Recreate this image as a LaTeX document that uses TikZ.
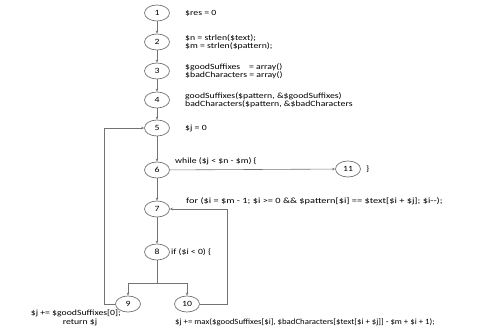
\documentclass[tikz,border=0pt]{standalone}
\usepackage{fontspec}
\setmainfont[FakeStretch=1.22]{Carlito}
\usetikzlibrary{arrows.meta,shapes.geometric}
\begin{document}
\begin{tikzpicture}[x=1pt,y=-1pt,
  nd/.style={draw=black!55,line width=0.7pt,ellipse,minimum width=25pt,minimum height=16pt,inner sep=0pt,font=\fontsize{8}{8}\selectfont},
  lbl/.style={anchor=west,align=left,inner sep=0pt,font=\fontsize{8}{8.5}\selectfont},
  ar/.style={draw=black!55,line width=0.6pt,-{Stealth[length=3pt,width=2.5pt]}},
  ln/.style={draw=black!55,line width=0.6pt}]
\useasboundingbox (0,0) rectangle (483,327);
\node[nd] (n1) at (157,13) {1};
\node[nd] (n2) at (157,42) {2};
\node[nd] (n3) at (157,71) {3};
\node[nd] (n4) at (157,100) {4};
\node[nd] (n5) at (157,128) {5};
\node[nd] (n6) at (157,170) {6};
\node[nd] (n7) at (157,209) {7};
\node[nd] (n8) at (157,252) {8};
\node[nd] (n9) at (128,304) {9};
\node[nd] (n10) at (187,304) {10};
\node[nd] (n11) at (348,169) {11};
\node[lbl] (t1) at (185,13) {\$res = 0};
\node[lbl] (t2) at (185,42) {\$n = strlen(\$text);\\\$m = strlen(\$pattern);};
\node[lbl] (t3) at (185,71) {\$goodSuffixes\ \ \ \ = array()\\\$badCharacters = array()};
\node[lbl] (t4) at (185,100) {goodSuffixes(\$pattern, \&\$goodSuffixes)\\badCharacters(\$pattern, \&\$badCharacters};
\node[lbl] (t5) at (185,128) {\$j = 0};
\node[lbl] (t6) at (175,161) {while (\$j < \$n - \$m) \{};
\node[lbl] (t11) at (366,169) {\}};
\node[lbl] (t7) at (186,201) {\scalebox{1.06}[1]{for (\$i = \$m - 1; \$i >= 0 \&\& \$pattern[\$i] == \$text[\$i + \$j]; \$i-{}-);}};
\node[lbl] (t8) at (171,252) {if (\$i < 0) \{};
\node[anchor=east,inner sep=0pt,font=\fontsize{8}{8.5}\selectfont] (t9) at (121,313) {\$j += \$goodSuffixes[0];};
\node[inner sep=0pt,font=\fontsize{8}{8.5}\selectfont] (t9b) at (80,322) {return \$j};
\node[lbl] (t10) at (175,322) {\scalebox{0.9}[1]{\$j += max(\$goodSuffixes[\$i], \$badCharacters[\$text[\$i + \$j]] - \$m + \$i + 1);}};
\coordinate (br) at (157,283);
\coordinate (lb) at (104,304);
\coordinate (lt) at (104,128);
\coordinate (rb) at (227,304);
\coordinate (rt) at (227,209);
\draw[ar] (n1) -- (n2);
\draw[ar] (n2) -- (n3);
\draw[ar] (n3) -- (n4);
\draw[ar] (n4) -- (n5);
\draw[ar] (n5) -- (n6);
\draw[ar] (n6) -- (n7);
\draw[ar] (n7) -- (n8);
\draw[ar] (n6) -- (n11);
\draw[ln] (n8) -- (br);
\draw[ar] (br) -| (n9);
\draw[ar] (br) -| (n10);
\draw[ar] (n9.west) -- (lb) -- (lt) -- (n5.west);
\draw[ar] (n10.east) -- (rb) -- (rt) -- (n7.east);
\end{tikzpicture}
\end{document}
